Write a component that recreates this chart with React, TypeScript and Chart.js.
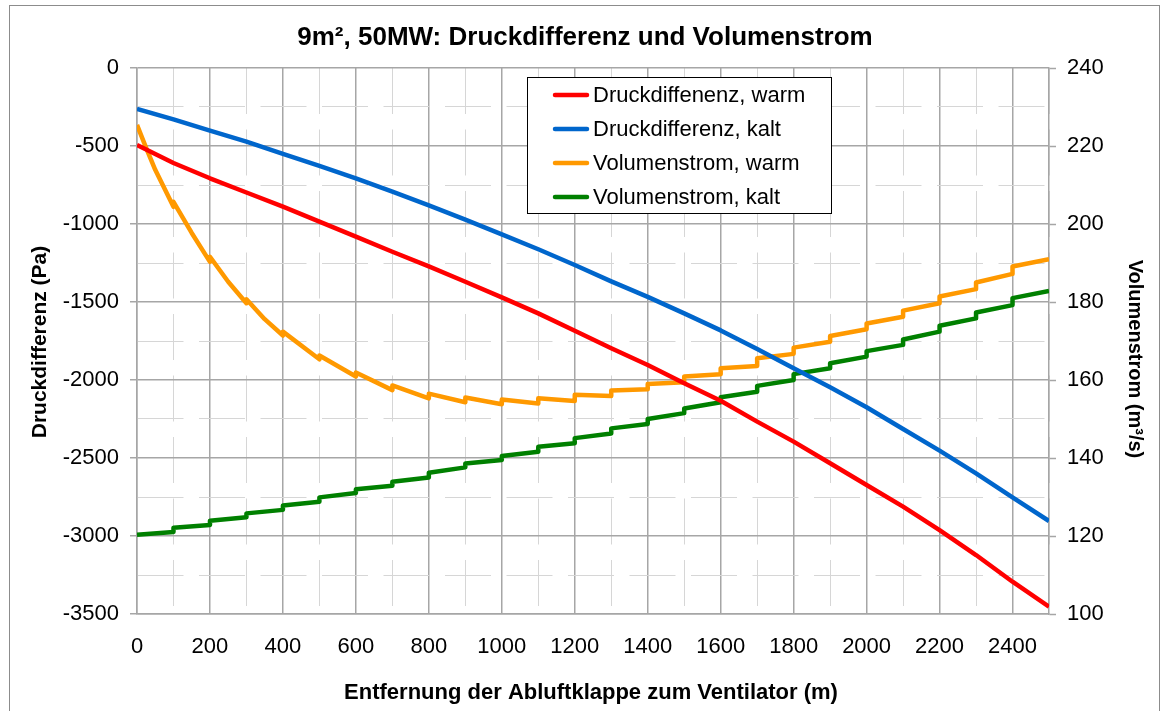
import React, { useEffect, useRef } from 'react';
import { Chart, registerables } from 'chart.js';

Chart.register(...registerables);

const FONT = "'Liberation Sans', Arial, Helvetica, sans-serif";

const TITLE = '9m², 50MW: Druckdifferenz und Volumenstrom';
const X_TITLE = 'Entfernung der Abluftklappe zum Ventilator (m)';
const Y_TITLE = 'Druckdifferenz (Pa)';
const Y1_TITLE = 'Volumenstrom (m³/s)';

const SERIES_LABELS = [
  'Druckdiffenenz, warm',
  'Druckdifferenz, kalt',
  'Volumenstrom, warm',
  'Volumenstrom, kalt',
];
const SERIES_COLORS = ['#ff0000', '#0066cc', '#ff9900', '#008000'];

// Pressure difference (Pa) sampled every 100 m
const distance = [
  0, 100, 200, 300, 400, 500, 600, 700, 800, 900, 1000, 1100, 1200, 1300,
  1400, 1500, 1600, 1700, 1800, 1900, 2000, 2100, 2200, 2300, 2400, 2500,
];
const druckWarm = [
  -494, -609, -707, -798, -889, -985, -1081, -1178, -1272, -1370, -1470,
  -1573, -1684, -1797, -1904, -2021, -2133, -2267, -2395, -2534, -2673,
  -2812, -2962, -3122, -3293, -3453,
];
const druckKalt = [
  -262, -329, -402, -472, -551, -628, -707, -793, -880, -972, -1067, -1162,
  -1263, -1368, -1467, -1573, -1682, -1802, -1925, -2047, -2175, -2314,
  -2453, -2598, -2752, -2904,
];

// Volume flow (m³/s): stepped curves, two values at each 100 m boundary
const volWarmX = [
  0, 25, 50, 100, 100, 150, 200, 200, 250, 300, 300, 350, 400, 400, 500, 500,
  600, 600, 700, 700, 800, 800, 900, 900, 1000, 1000, 1100, 1100, 1200, 1200,
  1300, 1300, 1400, 1400, 1500, 1500, 1600, 1600, 1700, 1700, 1800, 1800,
  1900, 1900, 2000, 2000, 2100, 2100, 2200, 2200, 2300, 2300, 2400, 2400, 2500,
];
const volWarm = [
  225.4, 219.5, 213.9, 204.4, 205.7, 197.7, 190.3, 191.6, 185.2, 179.7, 180.7,
  175.6, 171.4, 172.4, 165.3, 166.3, 160.9, 161.9, 157.4, 158.6, 155.3, 156.5,
  154.3, 155.5, 153.8, 155.0, 154.0, 155.3, 154.6, 156.2, 155.9, 157.3, 157.6,
  159.0, 159.4, 160.9, 161.5, 163.0, 163.6, 165.6, 166.7, 168.3, 169.8, 171.3,
  173.0, 174.5, 176.2, 177.8, 179.7, 181.4, 183.3, 185.0, 187.2, 189.1, 191.0,
];
const volKaltX = [
  0, 100, 100, 200, 200, 300, 300, 400, 400, 500, 500, 600, 600, 700, 700,
  800, 800, 900, 900, 1000, 1000, 1100, 1100, 1200, 1200, 1300, 1300, 1400,
  1400, 1500, 1500, 1600, 1600, 1700, 1700, 1800, 1800, 1900, 1900, 2000,
  2000, 2100, 2100, 2200, 2200, 2300, 2300, 2400, 2400, 2500,
];
const volKalt = [
  120.3, 121.0, 122.1, 122.8, 123.9, 124.8, 125.8, 126.7, 127.8, 128.8, 129.9,
  131.0, 132.0, 132.9, 133.9, 135.0, 136.2, 137.6, 138.6, 139.5, 140.5, 141.6,
  142.9, 143.8, 145.1, 146.3, 147.6, 148.7, 150.0, 151.5, 152.7, 154.3, 155.6,
  157.0, 158.5, 160.0, 161.5, 163.0, 164.3, 166.0, 167.4, 169.0, 170.4, 172.4,
  173.9, 175.8, 177.3, 179.2, 181.0, 182.8,
];

// Axis settings
const X_MIN = 0;
const X_MAX = 2500;
const X_STEP = 100;
const X_LABEL_STEP = 200;
const Y_MIN = -3500;
const Y_MAX = 0;
const Y_STEP = 250;
const Y_LABEL_STEP = 500;
const Y1_MIN = 100;
const Y1_MAX = 240;
const Y1_STEP = 20;

const MAJOR = '#a6a6a6';
const MINOR = '#d6d6d6';
const DASH = [46, 15.5];

const overlayPlugin = {
  id: 'overlay',
  afterDraw(chart: any) {
    const ctx = chart.ctx as CanvasRenderingContext2D;
    ctx.save();
    // outer frame
    ctx.strokeStyle = '#8c8c8c';
    ctx.lineWidth = 1;
    ctx.strokeRect(9.5, 5.5, 1150, 760);

    ctx.fillStyle = '#000';
    ctx.textAlign = 'center';
    ctx.textBaseline = 'middle';
    ctx.font = `bold 26px ${FONT}`;
    ctx.fillText(TITLE, 585, 38);

    ctx.font = `bold 22px ${FONT}`;
    ctx.fillText(X_TITLE, 591, 693);

    ctx.font = `bold 21px ${FONT}`;
    ctx.save();
    ctx.translate(40, 342);
    ctx.rotate(-Math.PI / 2);
    ctx.fillText(Y_TITLE, 0, 0);
    ctx.restore();
    ctx.font = `bold 20px ${FONT}`;
    ctx.save();
    ctx.translate(1135, 359);
    ctx.rotate(Math.PI / 2);
    ctx.fillText(Y1_TITLE, 0, 0);
    ctx.restore();

    // legend
    const lx = 527.5, ly = 77.5, lw = 304, lh = 136;
    ctx.fillStyle = '#fff';
    ctx.fillRect(lx, ly, lw, lh);
    ctx.strokeStyle = '#000';
    ctx.lineWidth = 1;
    ctx.strokeRect(lx, ly, lw, lh);
    const rows = [95, 129, 163, 197];
    ctx.font = `22px ${FONT}`;
    ctx.textAlign = 'left';
    chart.data.datasets.forEach((ds: any, i: number) => {
      const y = rows[i];
      ctx.strokeStyle = ds.borderColor;
      ctx.lineWidth = 4.5;
      ctx.lineCap = 'round';
      ctx.beginPath();
      ctx.moveTo(555, y);
      ctx.lineTo(587, y);
      ctx.stroke();
      ctx.fillStyle = '#000';
      ctx.fillText(ds.label, 593, y + 1);
    });
    ctx.restore();
  },
};

export default function App() {
  const ref = useRef<HTMLCanvasElement | null>(null);

  useEffect(() => {
    if (!ref.current) return;
    Chart.defaults.font.family = FONT;
    const isMinorX = (v: number) => Math.abs(v % X_LABEL_STEP) > 1e-6;
    const isMinorY = (v: number) => Math.abs(v % Y_LABEL_STEP) > 1e-6;

    const chart = new Chart(ref.current, {
      type: 'line',
      data: {
        datasets: [
          {
            label: SERIES_LABELS[0],
            data: distance.map((x, i) => ({ x, y: druckWarm[i] })),
            borderColor: SERIES_COLORS[0],
            yAxisID: 'y',
          },
          {
            label: SERIES_LABELS[1],
            data: distance.map((x, i) => ({ x, y: druckKalt[i] })),
            borderColor: SERIES_COLORS[1],
            yAxisID: 'y',
          },
          {
            label: SERIES_LABELS[2],
            data: volWarmX.map((x, i) => ({ x, y: volWarm[i] })),
            borderColor: SERIES_COLORS[2],
            yAxisID: 'y1',
          },
          {
            label: SERIES_LABELS[3],
            data: volKaltX.map((x, i) => ({ x, y: volKalt[i] })),
            borderColor: SERIES_COLORS[3],
            yAxisID: 'y1',
          },
        ],
      },
      options: {
        animation: false,
        responsive: false,
        devicePixelRatio: 1,
        layout: { padding: { top: 68, left: 0, right: 0, bottom: 0 } },
        elements: {
          point: { radius: 0, hoverRadius: 0 },
          line: { borderWidth: 4.5, tension: 0, fill: false, borderJoinStyle: 'round' },
        },
        plugins: {
          legend: { display: false },
          title: { display: false },
          tooltip: { enabled: false },
        },
        events: [],
        scales: {
          x: {
            type: 'linear',
            min: X_MIN,
            max: X_MAX,
            afterFit: (s: any) => { s.height = 97; },
            ticks: {
              stepSize: X_STEP,
              autoSkip: false,
              maxRotation: 0,
              minRotation: 0,
              padding: 20,
              color: '#000',
              font: { size: 22 },
              callback: (v: any) => (isMinorX(Number(v)) ? '' : String(v)),
            },
            grid: {
              drawTicks: false,
              color: (c: any) => (c.tick && isMinorX(c.tick.value) ? MINOR : MAJOR),
              lineWidth: (c: any) => (c.tick && isMinorX(c.tick.value) ? 1 : 1.5),
            },
            border: {
              display: true,
              color: MAJOR,
              width: 1.5,
              dash: (c: any) => (c.tick && isMinorX(c.tick.value) ? DASH : []),
            },
          },
          y: {
            type: 'linear',
            position: 'left',
            min: Y_MIN,
            max: Y_MAX,
            afterFit: (s: any) => { s.width = 137; },
            ticks: {
              stepSize: Y_STEP,
              autoSkip: false,
              padding: 11,
              color: '#000',
              font: { size: 22 },
              callback: (v: any) => (isMinorY(Number(v)) ? '' : String(v)),
            },
            grid: {
              tickLength: 7,
              color: (c: any) => (c.tick && isMinorY(c.tick.value) ? MINOR : MAJOR),
              lineWidth: (c: any) => (c.tick && isMinorY(c.tick.value) ? 1 : 1.5),
              tickColor: (c: any) => (c.tick && isMinorY(c.tick.value) ? 'rgba(0,0,0,0)' : MAJOR),
              tickWidth: 1.5,
            },
            border: {
              display: true,
              color: MAJOR,
              width: 1.5,
              dash: (c: any) => (c.tick && isMinorY(c.tick.value) ? DASH : []),
            },
          },
          y1: {
            type: 'linear',
            position: 'right',
            min: Y1_MIN,
            max: Y1_MAX,
            afterFit: (s: any) => { s.width = 113; },
            ticks: {
              stepSize: Y1_STEP,
              autoSkip: false,
              padding: 11,
              color: '#000',
              font: { size: 22 },
              callback: (v: any) => String(v),
            },
            grid: {
              drawOnChartArea: false,
              tickLength: 7,
              tickColor: MAJOR,
              tickWidth: 1.5,
            },
            border: { display: true, color: MAJOR, width: 1.5 },
          },
        },
      },
      plugins: [overlayPlugin],
    } as any);

    return () => chart.destroy();
  }, []);

  return (
    <div style={{ position: 'fixed', left: 0, top: 0, width: 1162, height: 711, background: '#fff' }}>
      <canvas ref={ref} width={1162} height={711} style={{ display: 'block', width: 1162, height: 711 }} />
    </div>
  );
}
